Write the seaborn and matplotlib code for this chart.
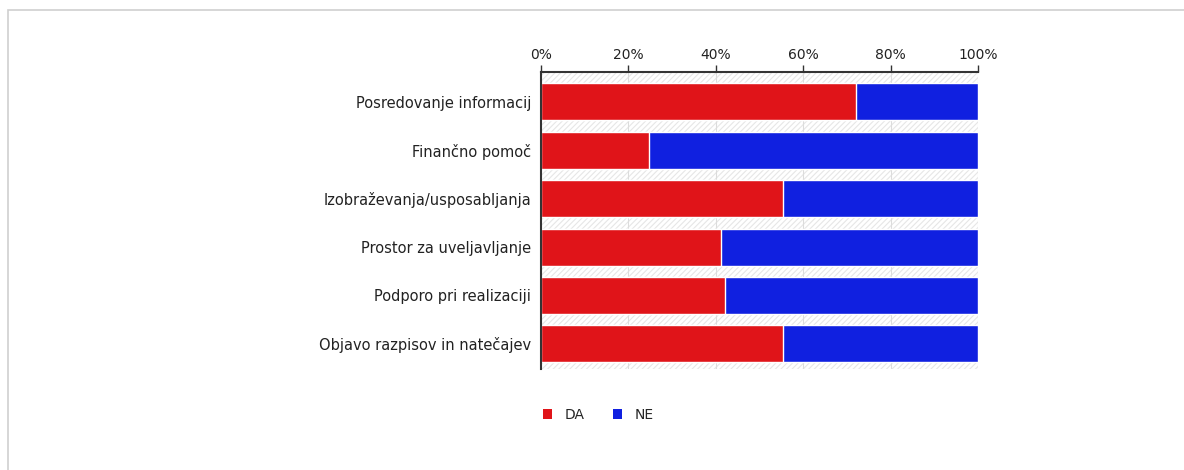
import numpy as np
import pandas as pd
import matplotlib
matplotlib.use("Agg")
import matplotlib.pyplot as plt
from matplotlib.patches import Rectangle
from matplotlib.ticker import PercentFormatter
import seaborn as sns

categories = [
    "Posredovanje informacij",
    "Finančno pomoč",
    "Izobraževanja/usposabljanja",
    "Prostor za uveljavljanje",
    "Podporo pri realizaciji",
    "Objavo razpisov in natečajev",
]
da_values = [72.0, 24.7, 55.4, 41.2, 42.0, 55.4]
ne_values = [28.0, 75.3, 44.6, 58.8, 58.0, 44.6]
x_ticks = [0, 20, 40, 60, 80, 100]

RED = "#e01419"
BLUE = "#1020e0"

df = pd.DataFrame({"kategorija": categories, "DA": da_values, "NE": ne_values})
df["skupaj"] = df["DA"] + df["NE"]

sns.set_style("white")
plt.rcParams["font.family"] = ["DejaVu Sans"]
plt.rcParams["hatch.color"] = "#e6e6e6"
plt.rcParams["hatch.linewidth"] = 0.8

fig = plt.figure(figsize=(11.84, 4.70), dpi=100)
ax = fig.add_axes([541 / 1184, 1 - 369 / 470, 437 / 1184, 297 / 470])

# hatched plot background
ax.add_patch(Rectangle((0, 0), 1, 1, transform=ax.transAxes, facecolor="white",
                       edgecolor="#e6e6e6", hatch="//////", linewidth=0, zorder=0))
for t in x_ticks[1:]:
    ax.axvline(t, color="#dcdcdc", linewidth=0.8, zorder=0.5)

# stacked bars: total in blue, DA in red on top
sns.barplot(data=df, y="kategorija", x="skupaj", color=BLUE, orient="h",
            width=0.765, saturation=1, ax=ax, zorder=2)
sns.barplot(data=df, y="kategorija", x="DA", color=RED, orient="h",
            width=0.765, saturation=1, ax=ax, zorder=3)

ax.set_xlim(0, 100)
ax.set_ylim(5.52, -0.62)
ax.set_xticks(x_ticks)
ax.xaxis.set_major_formatter(PercentFormatter(decimals=0))
ax.xaxis.tick_top()
ax.set_xlabel("")
ax.set_ylabel("")
ax.tick_params(axis="x", direction="out", length=5, width=1, color="#333333",
               labelsize=10, labelcolor="#222222", pad=2)
ax.tick_params(axis="y", direction="out", length=4, width=1, color="#333333",
               labelsize=10.5, labelcolor="#222222", pad=3)

for side in ["bottom", "right"]:
    ax.spines[side].set_visible(False)
ax.spines["top"].set_color("#333333")
ax.spines["top"].set_linewidth(1.5)
ax.spines["left"].set_color("#333333")
ax.spines["left"].set_linewidth(1.5)
ax.spines["top"].set_zorder(5)
ax.spines["left"].set_zorder(5)

# legend
handles = [Rectangle((0, 0), 1, 1, facecolor=RED, edgecolor="none"),
           Rectangle((0, 0), 1, 1, facecolor=BLUE, edgecolor="none")]
fig.legend(handles, ["DA", "NE"], loc="center left",
           bbox_to_anchor=(530 / 1184, 1 - 415 / 470), ncol=2, frameon=False,
           handlelength=0.7, handleheight=0.7, handletextpad=0.9,
           columnspacing=2.0, fontsize=10)

# outer frame
fig.add_artist(Rectangle((8 / 1184, -0.1), 1.2, 0.1 + (1 - 10 / 470),
                         transform=fig.transFigure, facecolor="none",
                         edgecolor="#cfcfcf", linewidth=1.2, clip_on=False))

fig.savefig("out.png", dpi=100)
